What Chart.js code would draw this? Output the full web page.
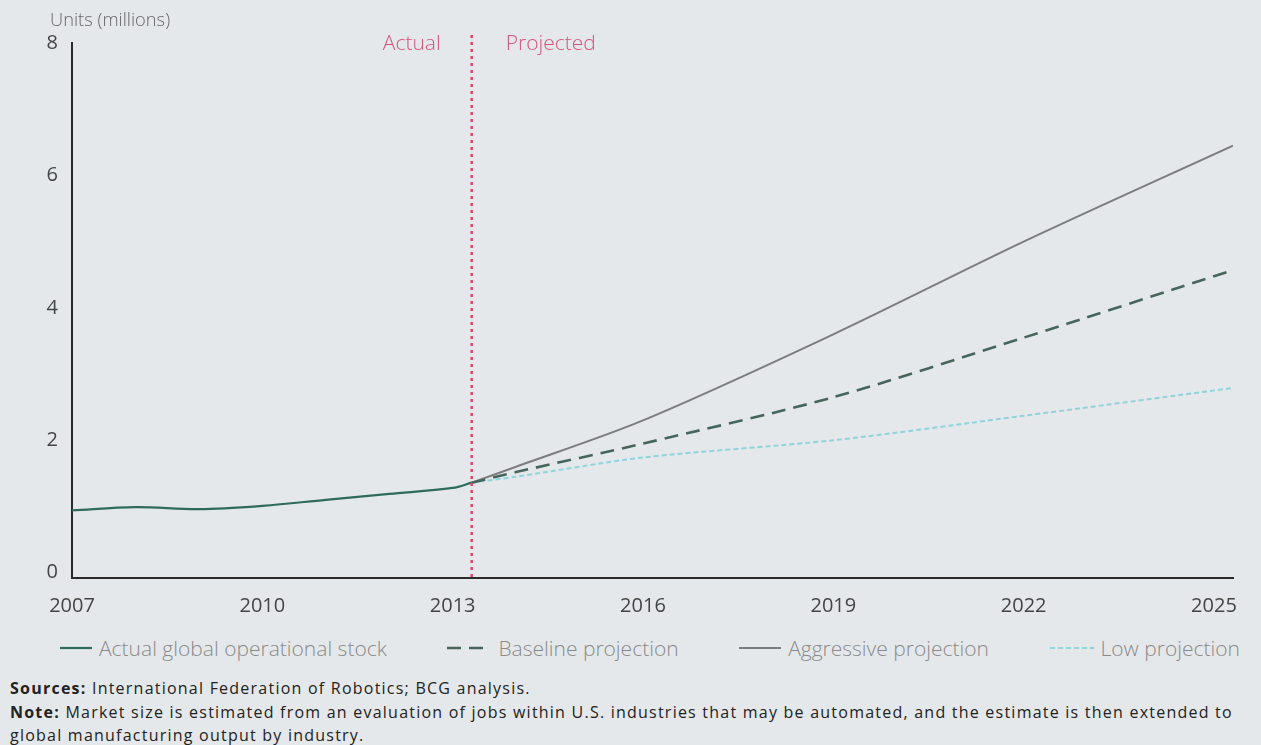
<!DOCTYPE html>
<html>
<head>
<meta charset="utf-8">
<script src="https://cdn.jsdelivr.net/npm/chart.js@4"></script>
<style>
  html, body { margin:0; padding:0; background:#e5e8ea; }
  body { width:1261px; height:745px; position:relative; overflow:hidden; font-family:"Open Sans", sans-serif; }
  #wrap { position:absolute; left:0; top:0; width:1261px; height:626px; }
  #ytitle { position:absolute; left:50px; top:6px; font-size:18.3px; color:#666; font-weight:300; font-family:"Open Sans", sans-serif; }
  #legend { position:absolute; left:60px; top:634px; width:1180px; display:flex; justify-content:space-between; font-size:21px; color:#8a8a8a; font-weight:300; }
  #legend .it { display:flex; align-items:center; }
  #legend svg { margin-right:7px; }
  #notes { position:absolute; left:10px; top:677px; font-size:16px; letter-spacing:1.23px; color:#222; line-height:23.5px; }
  #notes b { font-weight:700; }
</style>
</head>
<body>
<div id="wrap"><canvas id="c"></canvas></div>
<div id="ytitle">Units (millions)</div>
<div id="legend"></div>
<div id="notes"><b>Sources:</b> International Federation of Robotics; BCG analysis.<br><b>Note:</b> Market size is estimated from an evaluation of jobs within U.S. industries that may be automated, and the estimate is then extended to<br>global manufacturing output by industry.</div>
<script>
// ---- data ----
const actualYears = [2007, 2008, 2009, 2010, 2011, 2012, 2013, 2013.3];
const actualStock = [0.94, 0.99, 0.96, 1.01, 1.10, 1.19, 1.28, 1.36];
const projYears = [2013.3, 2014, 2016, 2019, 2022, 2025.3];
const baseline   = [1.36, 1.52, 1.95, 2.65, 3.55, 4.57];
const aggressive = [1.36, 1.60, 2.30, 3.60, 5.00, 6.45];
const low        = [1.36, 1.45, 1.74, 2.00, 2.37, 2.79];
const xTicks = [2007, 2010, 2013, 2016, 2019, 2022, 2025];
const yTicks = [0, 2, 4, 6, 8];
const dividerYear = 2013.3;
const labels = ["Actual global operational stock", "Baseline projection", "Aggressive projection", "Low projection"];

const pts = (xs, ys) => xs.map((x, i) => ({x, y: ys[i]}));

const styles = [
  {color:'#2f6b5c', dash:[], width:2.2, legW:32},
  {color:'#46665c', dash:[14,8], width:2.6, legW:44},
  {color:'#7b7d7f', dash:[], width:2, legW:42},
  {color:'#8fd3dc', dash:[5,3], width:2, legW:44}
];

// legend
const leg = document.getElementById('legend');
labels.forEach((t, i) => {
  const s = styles[i];
  const d = document.createElement('div'); d.className = 'it';
  d.innerHTML = `<svg width="${s.legW}" height="10"><line x1="0" y1="5" x2="${s.legW}" y2="5" stroke="${s.color}" stroke-width="${s.width}" stroke-dasharray="${s.dash.join(',')}"/></svg><span>${t}</span>`;
  leg.appendChild(d);
});

const dividerPlugin = {
  id: 'divider',
  afterDatasetsDraw(chart) {
    const {ctx, chartArea, scales} = chart;
    const x = scales.x.getPixelForValue(dividerYear);
    const top = scales.y.getPixelForValue(8) - 8;
    ctx.save();
    ctx.strokeStyle = '#e0456e';
    ctx.lineWidth = 2.5;
    ctx.setLineDash([3, 4]);
    ctx.beginPath(); ctx.moveTo(x, top); ctx.lineTo(x, chartArea.bottom); ctx.stroke();
    ctx.setLineDash([]);
    ctx.fillStyle = '#d4557c';
    ctx.font = '300 21px "Open Sans"';
    ctx.textBaseline = 'middle';
    ctx.textAlign = 'right'; ctx.fillText('Actual', x - 31, 44);
    ctx.textAlign = 'left'; ctx.fillText('Projected', x + 34, 44);
    ctx.restore();
  }
};

new Chart(document.getElementById('c'), {
  type: 'line',
  data: {
    datasets: [
      {label: labels[0], data: pts(actualYears, actualStock), borderColor: styles[0].color, borderWidth: styles[0].width, tension: 0.35, pointRadius: 0},
      {label: labels[1], data: pts(projYears, baseline), borderColor: styles[1].color, borderWidth: styles[1].width, borderDash: styles[1].dash, tension: 0.3, pointRadius: 0},
      {label: labels[2], data: pts(projYears, aggressive), borderColor: styles[2].color, borderWidth: styles[2].width, tension: 0.3, pointRadius: 0},
      {label: labels[3], data: pts(projYears, low), borderColor: styles[3].color, borderWidth: styles[3].width, borderDash: styles[3].dash, tension: 0.3, pointRadius: 0}
    ]
  },
  options: {
    responsive: true, maintainAspectRatio: false, animation: false,
    layout: {padding: {top: 43, right: 28, left: 0, bottom: 0}},
    plugins: {legend: {display: false}, tooltip: {enabled: false}},
    scales: {
      x: {
        type: 'linear', min: 2007, max: 2025.3,
        afterBuildTicks: s => { s.ticks = xTicks.map(v => ({value: v})); },
        ticks: {callback: v => String(v), color: '#444', font: {family: '"Open Sans"', size: 20}, padding: 8, maxRotation: 0, autoSkip: false},
        grid: {display: false},
        border: {display: true, color: '#2a2a2a', width: 2}
      },
      y: {
        min: -0.08, max: 8,
        afterBuildTicks: s => { s.ticks = yTicks.map(v => ({value: v})); },
        afterFit: s => { s.width = 72; },
        ticks: {color: '#444', font: {family: '"Open Sans"', size: 20}, padding: 6},
        grid: {display: false},
        border: {display: true, color: '#2a2a2a', width: 2}
      }
    }
  },
  plugins: [dividerPlugin]
});
</script>
</body>
</html>
